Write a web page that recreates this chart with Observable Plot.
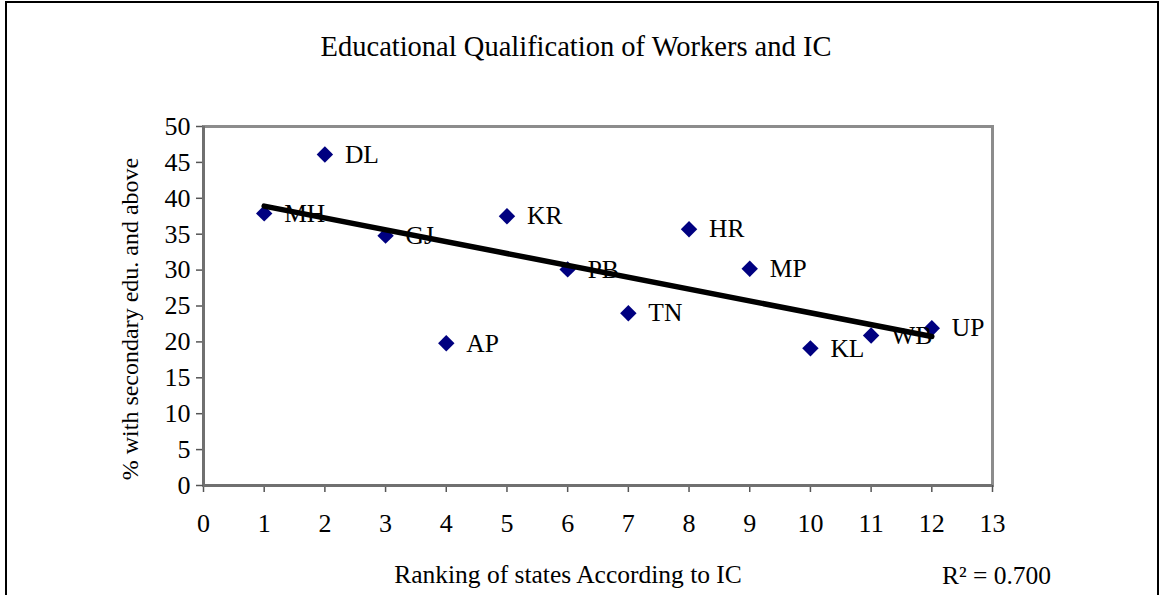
<!DOCTYPE html>
<html>
<head>
<meta charset="utf-8">
<script src="https://cdn.jsdelivr.net/npm/d3@7"></script>
<script src="https://cdn.jsdelivr.net/npm/@observablehq/plot@0.6"></script>
<style>
  html, body { margin: 0; padding: 0; background: #fff; }
  #wrap { position: relative; width: 1163px; height: 595px; overflow: hidden; background: #fff; }
  #border { position: absolute; left: 5px; top: 1px; width: 1154px; height: 700px; border: 2px solid #000; box-sizing: border-box; }
  #title { position: absolute; left: 0; top: 31px; width: 1152px; text-align: center;
           font-family: "Liberation Serif", "Times New Roman", serif; font-size: 28.5px; line-height: 32px; color: #000; margin: 0; font-weight: normal; }
  #chart { position: absolute; left: 0; top: 90px; }
</style>
</head>
<body>
<div id="wrap">
  <div id="border"></div>
  <h2 id="title">Educational Qualification of Workers and IC</h2>
  <div id="chart"></div>
</div>
<script>
// Data
const states = ["MH", "DL", "GJ", "AP", "KR", "PB", "TN", "HR", "MP", "KL", "WB", "UP"];
const ranks = [1, 2, 3, 4, 5, 6, 7, 8, 9, 10, 11, 12];
const eduPct = [37.9, 46.1, 34.8, 19.8, 37.5, 30.1, 24.0, 35.7, 30.2, 19.1, 20.9, 21.9];
const xTicks = [0, 1, 2, 3, 4, 5, 6, 7, 8, 9, 10, 11, 12, 13];
const yTicks = [0, 5, 10, 15, 20, 25, 30, 35, 40, 45, 50];
const xLabel = "Ranking of states According to IC";
const yLabel = "% with secondary edu. and above";
const r2Label = "R² = 0.700";

const data = states.map((s, i) => ({state: s, rank: ranks[i], pct: eduPct[i]}));
const serif = '"Liberation Serif", "Times New Roman", serif';

const chart = Plot.plot({
  width: 1163,
  height: 505,
  marginLeft: 203,
  marginRight: 171,
  marginTop: 36,
  marginBottom: 110,
  style: {fontFamily: serif, fontSize: "26px", color: "#000", background: "transparent", overflow: "visible"},
  x: {domain: [0, 13]},
  y: {domain: [0, 50]},
  marks: [
    Plot.frame({stroke: "#8c8c8c", strokeWidth: 3}),
    Plot.axisX({ticks: xTicks, tickSize: 7, tickPadding: 21, label: null, stroke: "#555", strokeWidth: 1.5, fill: "#000", fontSize: 26}),
    Plot.axisY({ticks: yTicks, tickSize: 7, tickPadding: 6, label: null, stroke: "#555", strokeWidth: 1.5, fill: "#000", fontSize: 26}),
    Plot.ruleX([0], {stroke: "#707070", strokeWidth: 3}),
    Plot.ruleY([0], {stroke: "#707070", strokeWidth: 3}),
    Plot.dot(data, {x: "rank", y: "pct", symbol: "diamond2", r: 7.4, fill: "#000080", stroke: null}),
    Plot.text(data, {x: "rank", y: "pct", text: "state", dx: 20, textAnchor: "start", fill: "#000", fontSize: 25.5}),
    Plot.linearRegressionY(data, {x: "rank", y: "pct", stroke: "#000", strokeWidth: 5.5, ci: 0}),
    Plot.text([xLabel], {text: d => d, frameAnchor: "bottom", textAnchor: "middle", lineAnchor: "middle", dx: -30, dy: 89, fill: "#000", fontSize: 25.5}),
    Plot.text([yLabel], {text: d => d, frameAnchor: "left", textAnchor: "middle", lineAnchor: "middle", rotate: -90, dx: -73, dy: 13, fill: "#000", fontSize: 24}),
    Plot.text([r2Label], {text: d => d, frameAnchor: "bottom-right", textAnchor: "middle", lineAnchor: "middle", dx: 4, dy: 90, fill: "#000", fontSize: 25.5})
  ]
});
document.getElementById("chart").appendChild(chart);
</script>
</body>
</html>
